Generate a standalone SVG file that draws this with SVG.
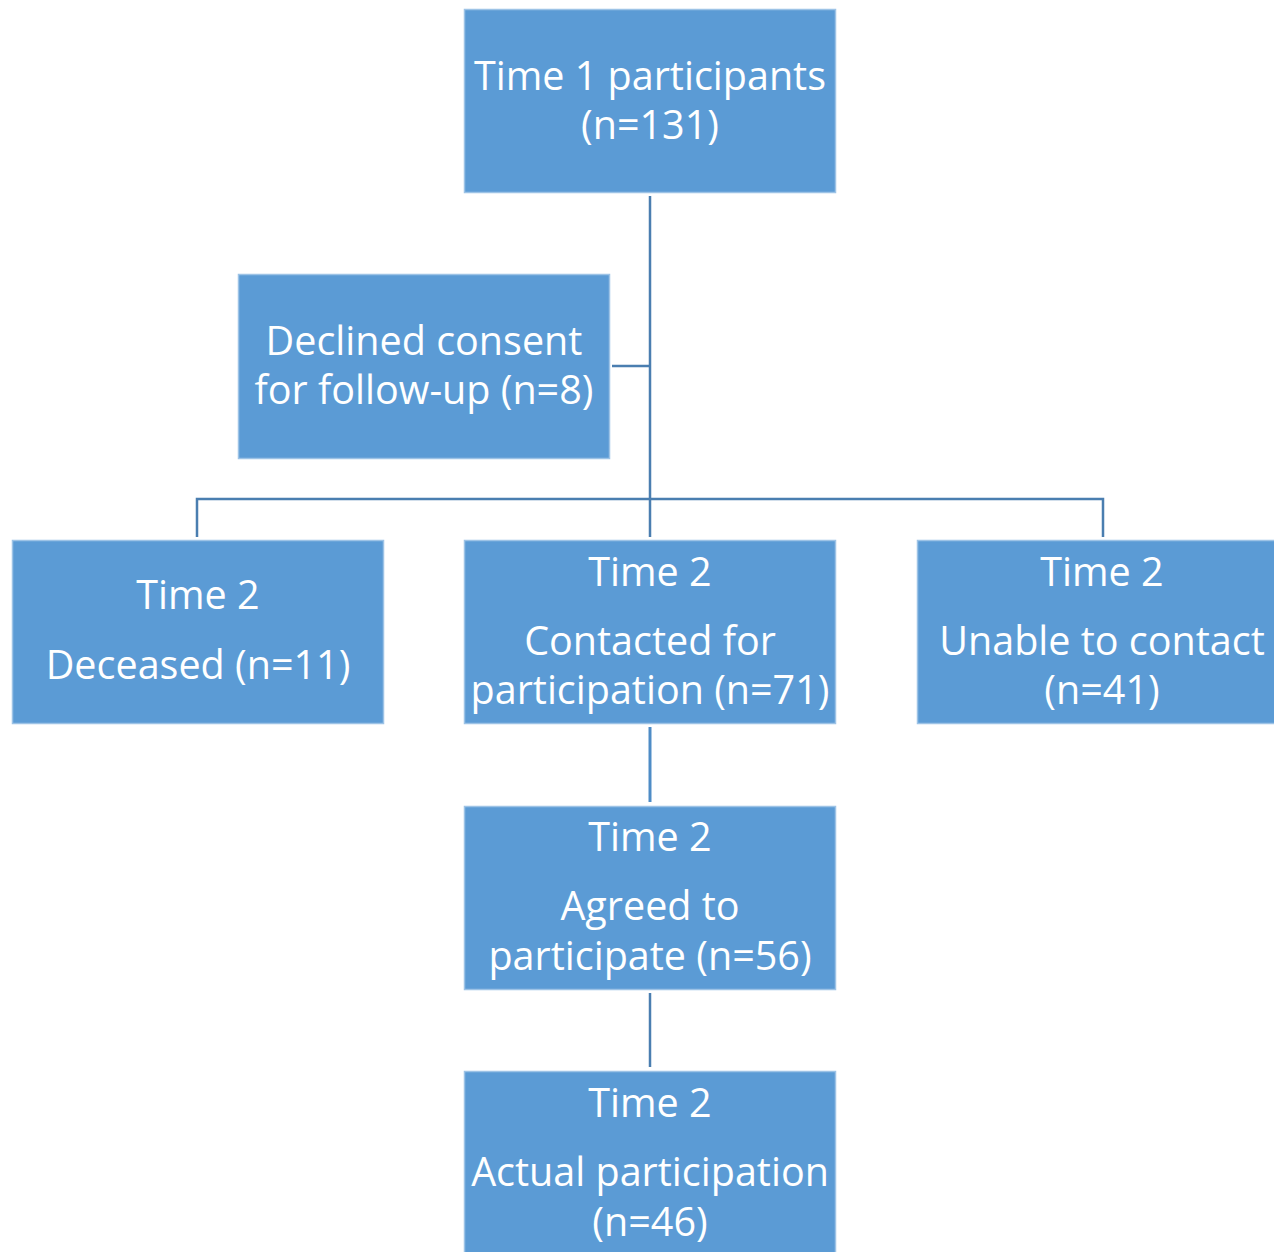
<svg xmlns="http://www.w3.org/2000/svg" width="1274" height="1252" viewBox="0 0 1274 1252">
<style>
.box{fill:#5B9BD5;stroke:#9DC3E6;stroke-width:1.5}
.t{font-family:"Open Sans","Noto Sans",sans-serif;font-size:39.5px;fill:#fff;text-anchor:middle}
.c{fill:none;stroke:#4A7EB0;stroke-width:2.5}
.c2{fill:none;stroke:#4E8CC6;stroke-width:3}
</style>
<rect width="1274" height="1252" fill="#fff"/>
<g id="connectors">
<path class="c" d="M650 196 V537"/>
<path class="c" d="M612 366 H650"/>
<path class="c" d="M197 537 V499 H1103 V537"/>
<path class="c2" d="M650 727 V802"/>
<path class="c" d="M650 993 V1067"/>
</g>
<g id="n1"><rect class="box" x="464.5" y="9.5" width="371" height="183"/>
<text class="t" x="650" y="90">Time 1 participants</text><text class="t" x="650" y="139">(n=131)</text></g>
<g id="n2"><rect class="box" x="238.5" y="274.5" width="371" height="184"/>
<text class="t" x="424" y="355">Declined consent</text><text class="t" x="424" y="404">for follow-up (n=8)</text></g>
<g id="n3"><rect class="box" x="12.5" y="540.5" width="371" height="183"/>
<text class="t" x="198" y="609">Time 2</text><text class="t" x="198" y="679">Deceased (n=11)</text></g>
<g id="n4"><rect class="box" x="464.5" y="540.5" width="371" height="183"/>
<text class="t" x="650" y="586">Time 2</text><text class="t" x="650" y="655">Contacted for</text><text class="t" x="650" y="704">participation (n=71)</text></g>
<g id="n5"><rect class="box" x="917.5" y="540.5" width="358" height="183"/>
<text class="t" x="1102" y="586">Time 2</text><text class="t" x="1102" y="655">Unable to contact</text><text class="t" x="1102" y="704">(n=41)</text></g>
<g id="n6"><rect class="box" x="464.5" y="806.5" width="371" height="183"/>
<text class="t" x="650" y="851">Time 2</text><text class="t" x="650" y="920">Agreed to</text><text class="t" x="650" y="970">participate (n=56)</text></g>
<g id="n7"><rect class="box" x="464.5" y="1071.5" width="371" height="190"/>
<text class="t" x="650" y="1117">Time 2</text><text class="t" x="650" y="1186">Actual participation</text><text class="t" x="650" y="1236">(n=46)</text></g>
</svg>
